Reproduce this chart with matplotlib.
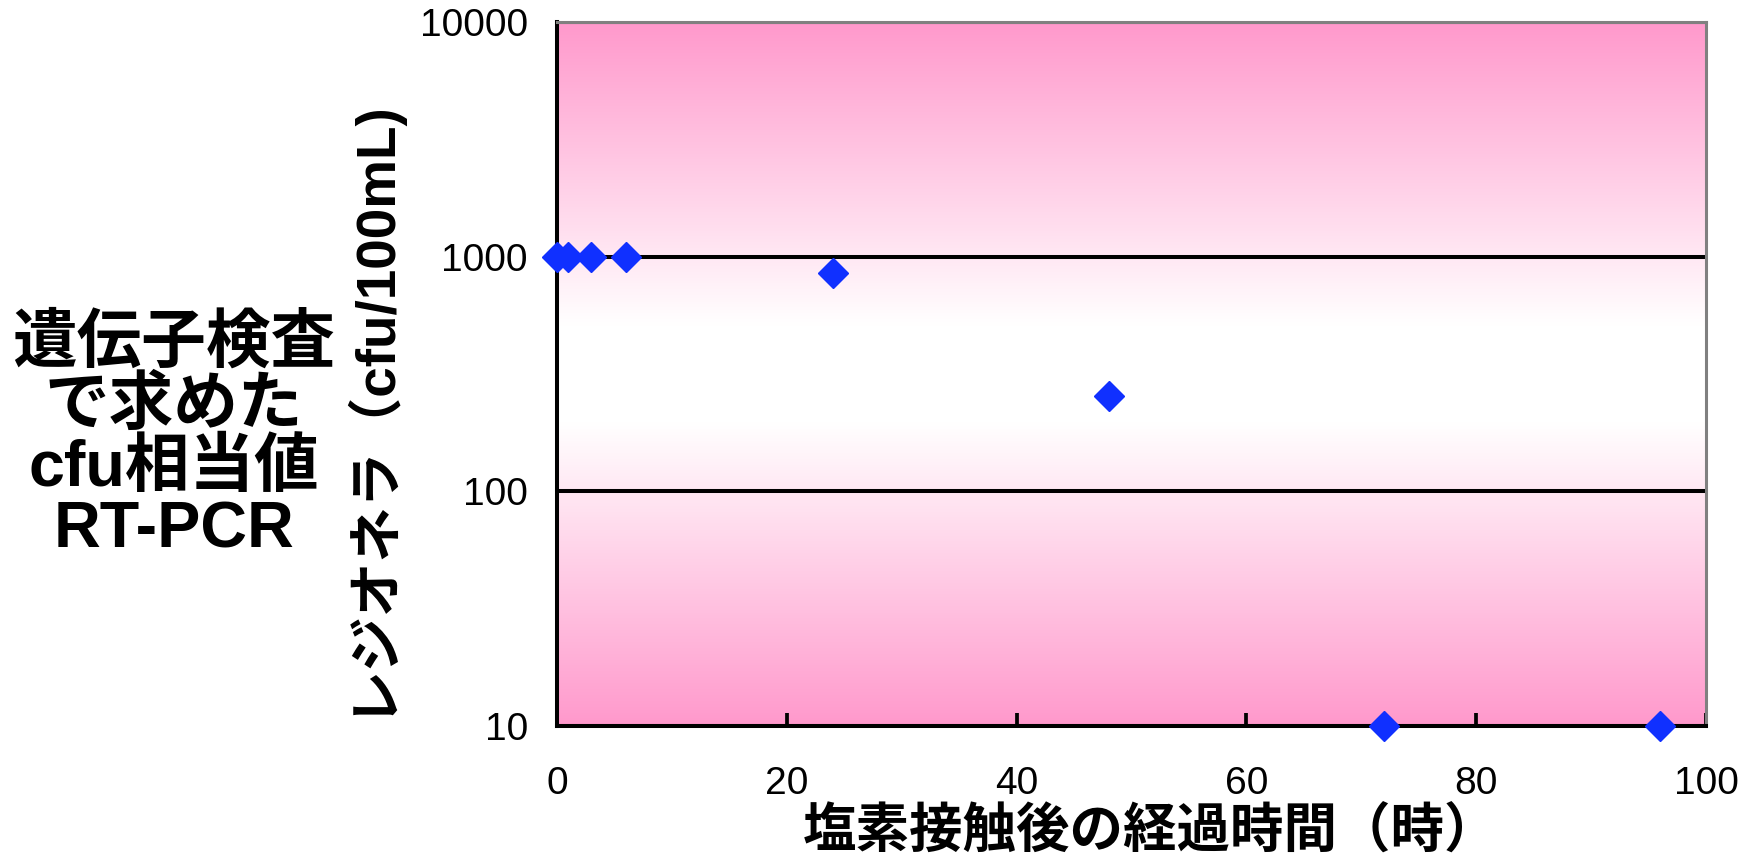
import numpy as np
import matplotlib
matplotlib.use("Agg")
import matplotlib.pyplot as plt
from matplotlib.colors import LinearSegmentedColormap
from matplotlib.ticker import FixedLocator, FixedFormatter, NullLocator

# --- données ---
heures = [0, 1, 3, 6, 24, 48, 72, 96]
cfu = [1000, 1000, 1000, 1000, 850, 255, 10, 10]

x_ticks = [0, 20, 40, 60, 80, 100]
y_ticks = [10, 100, 1000, 10000]
y_tick_labels = ["10", "100", "1000", "10000"]

titre_gauche = "遺伝子検査\nで求めた\ncfu相当値\nRT-PCR"
label_y = "レジオネラ（cfu/100mL)"
label_x = "塩素接触後の経過時間（時）"

plt.rcParams['font.family'] = ['Liberation Sans', 'Noto Sans CJK JP']

W, H = 1744, 859
fig = plt.figure(figsize=(W / 100, H / 100), dpi=100)
pos = [557 / W, 1 - 726 / H, (1706 - 557) / W, (726 - 22) / H]

# fond dégradé rose -> blanc -> rose
ax_bg = fig.add_axes(pos, zorder=0)
rose = LinearSegmentedColormap.from_list(
    "rose", [(0, "#ff99cc"), (0.43, "#ffffff"), (0.57, "#ffffff"), (1, "#ff99cc")])
grad = np.linspace(0, 1, 256).reshape(-1, 1)
ax_bg.imshow(grad, cmap=rose, aspect='auto', extent=[0, 1, 0, 1])
ax_bg.axis('off')

ax = fig.add_axes(pos, zorder=1)
ax.set_facecolor('none')
ax.set_yscale('log')
ax.set_xlim(0, 100)
ax.set_ylim(10, 10000)

ax.plot(heures, cfu, linestyle='none', marker='D', ms=15,
        color='#1030ff', mec='#1030ff', clip_on=False, zorder=5)

ax.xaxis.set_major_locator(FixedLocator(x_ticks))
ax.yaxis.set_major_locator(FixedLocator(y_ticks))
ax.yaxis.set_major_formatter(FixedFormatter(y_tick_labels))
ax.yaxis.set_minor_locator(NullLocator())

ax.yaxis.grid(True, color='black', linewidth=2.9, zorder=2)
ax.set_axisbelow(True)

for s in ['left', 'bottom']:
    ax.spines[s].set(color='black', linewidth=2.9)
for s in ['top', 'right']:
    ax.spines[s].set(color='#808080', linewidth=2.2)

ax.tick_params(axis='x', direction='in', length=9.5, width=2.7, color='black',
               pad=29, labelsize=28)
ax.tick_params(axis='y', length=0, pad=21, labelsize=28)

fig.text(368 / W, 1 - 406 / H, label_y, rotation=90, ha='center', va='center',
         fontsize=39.5, fontweight='bold')
fig.text(1151 / W, 1 - 833 / H, label_x, ha='center', va='center',
         fontsize=38.5, fontweight='bold')
fig.text(174 / W, 1 - 437 / H, titre_gauche, ha='center', va='center',
         multialignment='center', fontsize=46.5, fontweight='bold', linespacing=1.02)

fig.savefig("out.png", dpi=100)
